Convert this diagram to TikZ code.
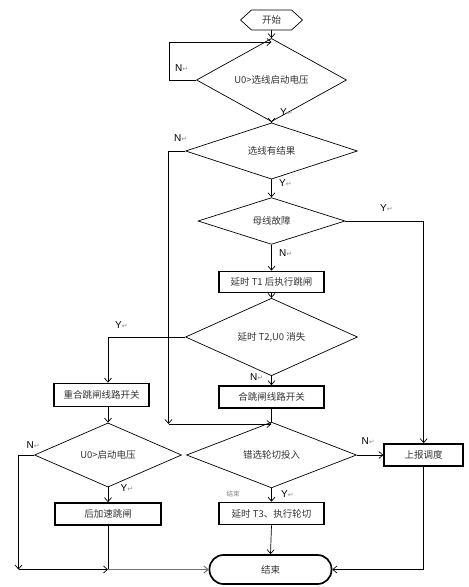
\documentclass[tikz,border=0pt]{standalone}
\usepackage{fontspec}
\setmainfont{Noto Sans CJK SC}
\newfontfamily\latinfont{Liberation Sans}
\newfontfamily\symfont{DejaVu Sans}
\usetikzlibrary{shapes.geometric,arrows.meta}
\newcommand{\retmark}{{\symfont\color{black!45}\fontsize{7}{8}\selectfont ↵}}
\begin{document}
\begin{tikzpicture}[x=1pt,y=-1pt,
  txt/.style={font=\fontsize{9.5}{11}\selectfont, text=black!80},
  dec/.style={diamond, draw, line width=0.7pt, inner sep=0pt, txt},
  proc/.style={rectangle, draw, line width=1.7pt, inner sep=0pt, txt},
  lbl/.style={anchor=west, inner sep=0pt, font=\latinfont\fontsize{10}{12}\selectfont},
  line/.style={line width=0.7pt},
  link/.style={line, -{Straight Barb[length=4pt,width=7pt]}}]
\useasboundingbox (0,0) rectangle (469,587);
% nodes
\node[txt, minimum width=62pt, minimum height=20pt, inner sep=0pt] (start) at (271.5,20) {开始};
\draw[line] ([xshift=-31pt]start.center) -- ([xshift=-20pt,yshift=10pt]start.center)
  -- ([xshift=20pt,yshift=10pt]start.center) -- ([xshift=31pt]start.center)
  -- ([xshift=20pt,yshift=-10pt]start.center) -- ([xshift=-20pt,yshift=-10pt]start.center) -- cycle;
\node[dec, minimum width=150pt, minimum height=44pt] (d1) at (271.5,80) {U0>选线启动电压};
\node[dec, minimum width=172pt, minimum height=43pt] (d2) at (271.5,151) {选线有结果};
\node[dec, minimum width=147pt, minimum height=43pt] (d3) at (271.5,221) {母线故障};
\node[proc, minimum width=105pt, minimum height=21pt] (b1) at (271.5,282) {延时 T1 后执行跳闸};
\node[dec, minimum width=172pt, minimum height=42pt] (d4) at (271.5,337) {延时 T2,U0 消失};
\node[proc, minimum width=95pt, minimum height=23pt] (b2) at (101.7,395) {重合跳闸线路开关};
\node[proc, minimum width=105pt, minimum height=22pt] (b4) at (271.5,397) {合跳闸线路开关};
\node[dec, minimum width=147pt, minimum height=42pt] (d5) at (108,455) {U0>启动电压};
\node[dec, minimum width=170pt, minimum height=43pt] (d6) at (271.5,455) {错选轮切投入};
\node[proc, minimum width=79pt, minimum height=22pt] (r1) at (423.7,455) {上报调度};
\node[proc, minimum width=106pt, minimum height=22pt] (b3) at (108,514) {后加速跳闸};
\node[proc, minimum width=105pt, minimum height=22pt] (b5) at (271.5,513.5) {延时 T3、执行轮切};
\node[txt, draw, line width=1.7pt, rounded corners=14pt, minimum width=122pt, minimum height=29pt, inner sep=0pt] (end) at (270.5,569.5) {结束};
% junctions
\coordinate (jA) at (271.5,42);
\coordinate (cB) at (168.5,424);
\coordinate (jB) at (271.5,424);
\coordinate (cC) at (18.5,569.5);
\coordinate (jC) at (108,569.5);
% connectors
\draw[link] (start.south) -- (d1.north);
\draw[link] (d1.west) -- ++(-27,0) |- (jA);
\draw[link] (d1.south) -- (d2.north);
\draw[link] (d2.west) -| (cB);
\draw[link] (cB) -- (jB);
\draw[link] (d2.south) -- (d3.north);
\draw[link] (d3.east) -| (r1.north);
\draw[link] (d3.south) -- (b1.north);
\draw[link] (b1.south) -- (d4.north);
\draw[link] (d4.west) -| (b2.north -| d5.north);
\draw[link] (b2.south -| d5.north) -- (d5.north);
\draw[link] (d4.south) -- (b4.north);
\draw[line] (b4.south) -- (d6.north);
\draw[link] (d5.west) -| (cC);
\draw[link] (cC) -- (jC);
\draw[line] (b3.south) -- (jC);
\draw[link, black!55, line width=1pt] (jC) -- (end.west);
\draw[link] (d5.south) -- (b3.north);
\draw[link] (d6.east) -- (r1.west);
\draw[link] (d6.south) -- (b5.north);
\draw[link] (b5.south) -- (end.north);
\draw[link] (r1.south) |- (end.east);
% labels
\node[lbl] (l1) at (175,68) {N\retmark};
\node[lbl] (l2) at (280,112) {Y\retmark};
\node[lbl] (l3) at (174,138) {N\retmark};
\node[lbl] (l4) at (279,183) {Y\retmark};
\node[lbl] (l5) at (380,208) {Y\retmark};
\node[lbl] (l6) at (279,253) {N\retmark};
\node[lbl] (l7) at (115,325) {Y\retmark};
\node[lbl] (l8) at (250,377) {N\retmark};
\node[lbl] (l9) at (361.5,441.5) {N\retmark};
\node[lbl] (l10) at (26.5,445) {N\retmark};
\node[lbl] (l11) at (120.5,488) {Y\retmark};
\node[lbl] (l12) at (281,494) {Y\retmark};
\node[anchor=west, inner sep=0pt, font=\fontsize{6.5}{8}\selectfont, text=black!50] (l13) at (226.5,494) {结束};
\end{tikzpicture}
\end{document}
